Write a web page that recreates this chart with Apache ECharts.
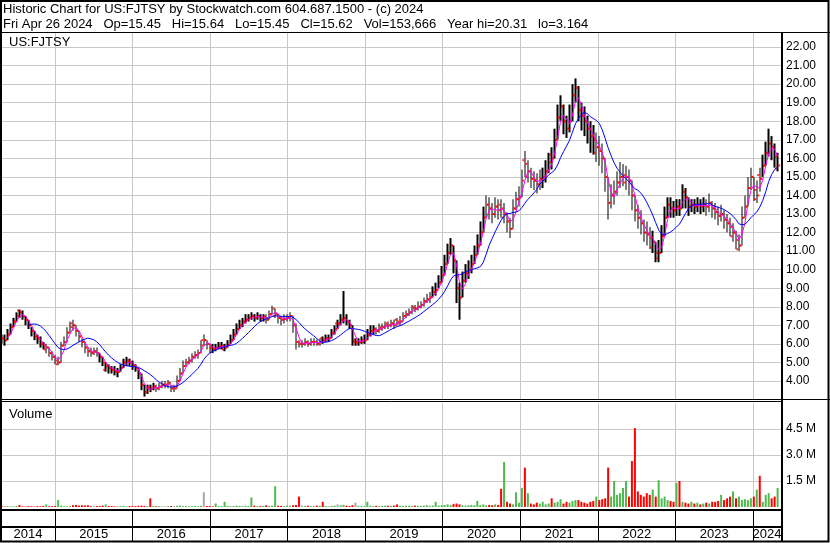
<!DOCTYPE html>
<html><head><meta charset="utf-8">
<script src="https://cdn.jsdelivr.net/npm/echarts@6/dist/echarts.min.js"></script>
<style>html,body{margin:0;padding:0;background:#fff}#c{width:830px;height:543px}</style>
</head><body><div id="c"></div>
<script>
// ---- data (bi-weekly bars) ----
const firstBarDate = [2014, 3, 25];   // y, m(0-based), d
const barStepDays = 14;
const axisStart = [2014, 3, 22];
const axisEnd = [2024, 4, 12];
const yearLabels = ['2014','2015','2016','2017','2018','2019','2020','2021','2022','2023','2024'];
const priceTicks = [4,5,6,7,8,9,10,11,12,13,14,15,16,17,18,19,20,21,22];
const volumeTicks = [1.5, 3.0, 4.5];   // millions

const opens = [
6.4,6.3,6.2,6.5,6.9,7.2,7.8,7.7,7.5,7.3,
7.0,6.7,6.4,6.3,6.0,5.7,5.8,5.5,5.3,4.9,
5.0,5.9,6.1,6.6,7.1,7.0,6.7,6.4,6.1,5.8,
5.6,5.5,5.6,5.5,5.3,4.6,4.8,4.7,4.6,4.5,
4.5,4.7,5.0,5.1,5.0,4.85,4.7,4.4,3.8,3.4,
3.7,3.6,3.7,3.6,3.7,3.8,3.8,3.9,3.6,3.6,
4.0,4.4,4.8,5.0,5.1,5.3,5.4,5.5,6.2,6.2,
6.0,5.8,5.7,5.8,5.85,5.7,5.8,5.95,6.2,6.5,
6.8,7.0,7.2,7.3,7.4,7.5,7.4,7.5,7.4,7.45,
7.3,7.6,7.5,7.6,7.4,7.3,7.35,7.4,7.5,7.0,
6.1,6.0,6.0,6.1,6.0,6.1,6.1,6.0,6.3,6.2,
6.3,6.3,6.6,7.1,7.1,7.3,7.4,7.2,7.0,6.1,
6.0,6.1,6.1,6.2,6.5,6.7,6.8,6.7,6.8,6.9,
7.1,7.0,7.1,7.3,7.1,7.2,7.5,7.6,7.7,8.0,
7.9,8.0,8.1,8.3,8.4,8.5,8.8,8.9,9.3,9.7,
10.3,10.9,11.3,10.5,9.0,8.5,9.4,9.8,10.0,10.3,
10.8,11.3,12.0,12.8,13.5,13.3,13.0,13.4,13.5,12.8,
13.0,12.6,12.2,13.3,13.8,13.9,15.9,15.0,15.3,14.9,
14.8,14.6,14.9,15.0,15.3,16.2,16.0,17.0,18.2,18.8,
18.0,17.6,18.0,19.4,19.8,18.6,18.3,18.0,17.6,17.2,
16.3,16.6,16.4,16.0,15.0,13.6,14.0,14.2,14.7,15.0,
14.7,15.0,14.8,14.0,13.2,12.8,12.5,12.0,11.9,11.2,
11.5,10.6,10.9,11.8,12.8,13.5,13.3,13.2,13.4,13.3,
14.2,13.9,13.4,13.5,13.4,13.5,13.4,13.5,13.4,13.6,
13.3,13.1,12.9,13.0,12.7,12.5,11.8,12.0,11.1,11.3,
12.8,13.4,14.4,15.0,13.8,15.1,14.9,15.6,16.3,16.8,
16.6,15.45];

const closes = [
6.3,6.2,6.5,6.9,7.2,7.5,7.7,7.5,7.3,7.0,
6.7,6.4,6.3,6.0,5.9,5.8,5.5,5.3,5.1,5.0,
5.9,6.1,6.6,6.9,7.0,6.7,6.4,6.1,5.8,5.6,
5.5,5.6,5.5,5.3,5.0,4.8,4.7,4.6,4.5,4.5,
4.7,5.0,5.1,5.0,4.85,4.7,4.4,3.8,3.4,3.6,
3.6,3.7,3.6,3.7,3.8,3.8,3.9,3.6,3.6,4.0,
4.4,4.8,5.0,5.1,5.3,5.4,5.5,5.9,6.2,6.0,
5.8,5.7,5.8,5.85,5.9,5.8,5.95,6.2,6.5,6.8,
7.0,7.2,7.3,7.4,7.5,7.4,7.5,7.4,7.45,7.3,
7.6,7.9,7.6,7.4,7.3,7.35,7.4,7.5,7.0,6.1,
6.0,6.0,6.1,6.0,6.1,6.1,6.0,6.1,6.2,6.3,
6.3,6.6,6.8,7.1,7.3,7.4,7.2,7.0,6.2,6.1,
6.1,6.2,6.2,6.5,6.7,6.8,6.7,6.9,6.9,7.0,
7.0,7.1,7.0,7.2,7.2,7.5,7.6,7.7,7.9,7.9,
8.0,8.1,8.3,8.4,8.5,8.8,8.9,9.3,9.7,10.3,
10.9,11.3,10.5,9.0,8.5,9.4,9.8,10.0,10.3,10.8,
11.3,12.0,12.8,13.5,13.3,13.0,13.4,13.2,13.3,13.0,
12.6,12.2,13.3,13.8,13.9,14.8,15.7,15.3,14.9,14.8,
14.6,14.9,15.0,15.3,15.8,16.0,17.0,18.2,18.8,18.0,
17.6,18.0,19.4,19.8,18.6,18.3,18.0,17.6,17.2,17.0,
16.6,16.4,16.0,15.0,13.6,14.0,14.2,14.7,15.0,15.1,
15.0,14.8,14.0,13.2,12.8,12.5,12.0,11.9,11.7,11.5,
10.9,10.9,11.8,12.8,13.5,13.3,13.2,13.4,13.3,14.2,
13.9,13.4,13.5,13.4,13.5,13.4,13.5,13.4,13.6,13.3,
13.1,12.9,13.0,12.7,12.5,12.3,12.0,11.6,11.3,12.8,
13.4,14.4,15.0,14.3,14.0,14.9,15.6,16.3,16.8,16.6,
16.1,15.62];

const lows = [
6.0,5.9,6.2,6.5,6.9,7.2,7.4,7.3,7.0,6.8,
6.4,6.2,6.0,5.8,5.7,5.5,5.3,5.1,4.9,4.85,
5.0,5.9,6.1,6.6,6.7,6.4,6.1,5.8,5.5,5.3,
5.3,5.4,5.3,5.0,4.8,4.5,4.4,4.4,4.3,4.2,
4.5,4.7,4.8,4.8,4.6,4.5,4.1,3.5,3.16,3.3,
3.4,3.5,3.4,3.5,3.6,3.6,3.6,3.4,3.4,3.6,
4.0,4.4,4.8,4.9,5.0,5.2,5.2,5.5,5.9,5.7,
5.5,5.5,5.6,5.7,5.7,5.6,5.8,6.0,6.2,6.5,
6.8,6.9,7.1,7.2,7.3,7.2,7.3,7.2,7.2,7.1,
7.3,7.6,7.4,7.1,7.0,7.1,7.2,7.2,6.6,5.7,
5.8,5.8,5.9,5.85,5.9,5.9,5.9,5.9,6.0,6.1,
6.1,6.3,6.5,6.8,7.0,7.1,7.0,6.8,5.9,5.9,
5.9,6.0,6.0,6.2,6.4,6.5,6.5,6.6,6.7,6.8,
6.8,6.9,6.8,7.0,7.0,7.2,7.4,7.5,7.6,7.7,
7.8,7.9,8.0,8.2,8.2,8.5,8.6,9.0,9.3,9.7,
10.3,10.8,9.8,8.2,7.3,8.5,9.3,9.5,9.8,10.3,
10.8,11.3,12.0,12.8,12.7,12.5,12.8,12.7,12.8,12.5,
12.0,11.7,12.2,13.2,13.4,13.9,15.0,14.7,14.4,14.3,
14.1,14.3,14.4,14.7,15.2,15.4,16.0,17.0,18.0,17.3,
17.1,17.4,18.0,19.0,18.0,17.5,17.2,16.8,16.3,16.2,
15.8,15.6,15.2,14.2,12.7,13.3,13.5,14.0,14.4,14.5,
14.3,14.0,13.2,12.6,12.2,11.9,11.5,11.3,11.1,10.9,
10.4,10.4,10.9,11.8,12.8,12.8,12.8,12.9,12.9,13.3,
13.3,12.9,13.1,13.0,13.1,13.0,13.1,12.9,13.1,12.8,
12.7,12.4,12.6,12.2,12.0,11.8,11.5,11.1,11.0,11.3,
12.8,13.4,14.3,13.7,13.6,14.2,15.0,15.6,16.1,15.9,
15.5,15.3];

const highs = [
6.5,6.5,6.8,7.1,7.4,7.7,7.85,7.8,7.5,7.3,
6.9,6.7,6.5,6.4,6.1,6.0,5.8,5.6,5.4,5.3,
6.1,6.4,6.9,7.2,7.3,7.0,6.7,6.3,6.1,5.8,
5.8,5.8,5.8,5.5,5.3,5.0,4.9,4.8,4.8,4.7,
4.9,5.2,5.3,5.2,5.1,4.9,4.7,4.4,3.8,3.8,
3.8,3.9,3.8,3.9,4.0,4.0,4.05,3.8,3.8,4.3,
4.7,5.1,5.2,5.3,5.5,5.6,5.7,6.2,6.5,6.2,
6.0,6.0,6.0,6.1,6.1,6.0,6.2,6.5,6.8,7.1,
7.3,7.4,7.6,7.6,7.7,7.6,7.7,7.6,7.6,7.6,
7.8,8.05,7.9,7.6,7.5,7.6,7.6,7.7,7.5,7.1,
6.2,6.2,6.3,6.2,6.3,6.3,6.25,6.3,6.4,6.5,
6.5,6.8,7.0,7.3,7.6,8.85,7.6,7.3,7.0,6.3,
6.3,6.4,6.5,6.8,7.0,7.0,6.9,7.1,7.1,7.2,
7.2,7.3,7.3,7.4,7.5,7.7,7.8,7.9,8.1,8.1,
8.3,8.3,8.5,8.7,8.8,9.1,9.3,9.7,10.2,10.8,
11.4,11.7,11.3,10.5,9.3,9.9,10.3,10.5,10.8,11.3,
11.9,12.6,13.4,14.0,13.9,13.6,13.9,13.8,13.8,13.6,
13.1,12.8,13.8,14.2,14.5,15.4,16.4,15.9,15.5,15.3,
15.2,15.4,15.5,15.9,16.3,16.6,17.6,18.9,19.4,18.9,
18.3,18.9,20.0,20.31,19.9,19.0,18.8,18.3,18.0,17.8,
17.4,17.2,16.8,16.0,15.0,14.6,14.8,15.3,15.8,15.7,
15.6,15.4,14.8,14.0,13.5,13.2,12.7,12.6,12.3,12.1,
11.5,11.6,12.4,13.4,13.9,13.9,13.7,13.8,13.8,14.6,
14.4,13.9,13.8,13.8,13.9,13.8,13.9,13.8,14.1,13.7,
13.6,13.4,13.5,13.2,13.0,12.8,12.5,12.1,11.9,13.4,
14.0,15.0,15.5,15.0,14.8,15.5,16.2,16.9,17.6,17.2,
16.8,16.3];

const volumes = [   // millions
0.04,0.03,0.05,0.04,0.03,0.06,0.12,0.04,0.03,0.05,
0.04,0.03,0.05,0.04,0.06,0.15,0.04,0.05,0.06,0.4,
0.08,0.05,0.04,0.06,0.1,0.12,0.08,0.1,0.09,0.1,
0.05,0.04,0.06,0.05,0.08,0.15,0.06,0.05,0.04,0.06,
0.05,0.07,0.04,0.05,0.06,0.05,0.07,0.08,0.06,0.05,
0.5,0.06,0.04,0.05,0.03,0.04,0.05,0.06,0.04,0.07,
0.08,0.05,0.06,0.04,0.05,0.06,0.05,0.07,0.85,0.06,
0.05,0.04,0.2,0.06,0.05,0.3,0.07,0.05,0.06,0.08,
0.06,0.05,0.07,0.06,0.55,0.08,0.06,0.05,0.07,0.1,
0.06,0.08,1.2,0.07,0.06,0.05,0.08,0.07,0.1,0.12,
0.6,0.08,0.06,0.07,0.05,0.06,0.08,0.07,0.3,0.06,
0.05,0.07,0.08,0.15,0.1,0.12,0.08,0.06,0.1,0.25,
0.07,0.06,0.05,0.3,0.08,0.06,0.07,0.05,0.06,0.08,
0.07,0.06,0.08,0.15,0.07,0.06,0.08,0.07,0.06,0.08,
0.07,0.06,0.08,0.1,0.07,0.09,0.3,0.08,0.1,0.12,
0.15,0.12,0.18,0.2,0.15,0.1,0.08,0.1,0.12,0.1,
0.35,0.12,0.15,0.1,0.12,0.1,0.15,0.12,1.05,2.6,
0.3,0.2,0.15,0.85,0.25,1.1,2.27,0.8,0.2,0.15,
0.25,0.2,0.3,0.15,0.2,0.5,0.25,0.3,0.45,0.2,
0.3,0.25,0.35,0.4,0.4,0.3,0.25,0.2,0.3,0.35,
0.6,0.4,0.45,0.5,2.27,0.6,1.5,0.7,0.8,1.1,
1.5,0.6,2.65,4.55,0.9,0.7,0.6,0.8,0.7,1.0,
0.6,1.55,0.5,0.6,0.4,0.35,0.3,1.4,1.5,0.3,
0.25,0.2,0.3,0.2,0.25,0.15,0.2,0.25,0.2,0.3,
0.3,0.35,0.7,0.4,0.5,0.6,0.9,0.5,0.6,0.4,
0.45,0.4,0.5,0.6,1.0,1.8,0.3,0.7,0.8,0.5,
0.6,1.1];

const fastMaLen = 3;
const slowMaLen = 10;

const headerLine1 = 'Historic Chart for US:FJTSY by Stockwatch.com 604.687.1500 - (c) 2024';
const headerLine2 = 'Fri Apr 26 2024   Op=15.45   Hi=15.64   Lo=15.45   Cl=15.62   Vol=153,666   Year hi=20.31   lo=3.164';
const symbolLabel = 'US:FJTSY';
const volumeLabel = 'Volume';

// ---- build ----
const FONT = "'Liberation Sans', Arial, sans-serif";
const DAY = 86400000;
function utc(y, m, d) { return Date.UTC(y, m, d); }
const t0 = utc(axisStart[0], axisStart[1], axisStart[2]);
function dayX(t) { return Math.round((t - t0) / DAY); }   // x = days since axis start
const xMax = dayX(utc(axisEnd[0], axisEnd[1], axisEnd[2]));
const barX = closes.map((_, i) => dayX(utc(firstBarDate[0], firstBarDate[1], firstBarDate[2] + barStepDays * i)));
const yearStarts = yearLabels.slice(1).map(y => dayX(utc(+y, 0, 1)));
const yearCenters = yearLabels.map(y => {
  const a = Math.max(0, dayX(utc(+y, 0, 1)));
  const b = Math.min(xMax, dayX(utc(+y + 1, 0, 1)));
  return (a + b) / 2;
});
function yearOf(x) { return new Date(t0 + x * DAY).getUTCFullYear(); }
function sma(arr, n) {
  return arr.map((_, i) => {
    if (i < n - 1) return null;
    let s = 0; for (let k = i - n + 1; k <= i; k++) s += arr[k];
    return s / n;
  });
}
const fastMa = sma(closes, fastMaLen);
const slowMa = sma(closes, slowMaLen);

const GRID_C = '#c8c8c8';
const chart = echarts.init(document.getElementById('c'), null, { renderer: 'canvas' });

function dayAxis(gridIndex, extra) {
  return Object.assign({
    type: 'value', gridIndex, min: 0, max: xMax,
    axisLine: { show: false },
    axisTick: { show: false, customValues: yearStarts },
    axisLabel: { show: false },
    splitLine: { show: true, lineStyle: { color: GRID_C, width: 1 } }
  }, extra || {});
}

const option = {
  animation: false,
  backgroundColor: '#fff',
  grid: [
    { left: 1, right: 49, top: 33, height: 366.5 },
    { left: 1, right: 49, top: 403, height: 104 },
    { left: 1, right: 49, top: 510, height: 17 }
  ],
  xAxis: [
    dayAxis(0),
    dayAxis(1),
    dayAxis(2, {
      axisTick: { show: true, customValues: yearStarts, length: 15, lineStyle: { color: '#000', width: 1 } },
      axisLabel: {
        show: true, customValues: yearCenters, margin: 7, verticalAlign: 'middle',
        color: '#000', fontSize: 13, fontFamily: FONT,
        formatter: v => String(yearOf(v))
      },
      splitLine: { show: true, lineStyle: { color: '#000', width: 1 } }
    })
  ],
  yAxis: [
    {
      type: 'value', gridIndex: 0, position: 'right', min: 3, max: 22.758,
      axisLine: { show: false },
      axisTick: { show: false, customValues: priceTicks },
      axisLabel: { customValues: priceTicks, formatter: v => v.toFixed(2), color: '#000', fontSize: 12, fontFamily: FONT, margin: 5 },
      splitLine: { show: true, lineStyle: { color: GRID_C, width: 1 } }
    },
    {
      type: 'value', gridIndex: 1, position: 'right', min: 0, max: 6,
      axisLine: { show: false },
      axisTick: { show: false, customValues: volumeTicks },
      axisLabel: { customValues: volumeTicks, formatter: v => v.toFixed(1) + ' M', color: '#000', fontSize: 12, fontFamily: FONT, margin: 5 },
      splitLine: { show: true, lineStyle: { color: GRID_C, width: 1 } }
    },
    { type: 'value', gridIndex: 2, show: false, min: 0, max: 1 }
  ],
  series: [
    {
      type: 'candlestick', name: 'range', xAxisIndex: 0, yAxisIndex: 0, z: 2,
      barWidth: 2, silent: true,
      encode: { x: 0, y: [1, 2, 3, 4] },
      itemStyle: { color: '#000', color0: '#000', borderColor: '#000', borderColor0: '#000', borderWidth: 0 },
      data: barX.map((x, i) => [x, lows[i], highs[i], lows[i], highs[i]])
    },
    {
      type: 'scatter', name: 'open', xAxisIndex: 0, yAxisIndex: 0, z: 3, silent: true,
      symbol: 'rect', symbolSize: [2, 2], symbolOffset: [-1.5, 0],
      itemStyle: { color: '#ff0000' },
      data: barX.map((x, i) => [x, opens[i]])
    },
    {
      type: 'scatter', name: 'close', xAxisIndex: 0, yAxisIndex: 0, z: 3, silent: true,
      symbol: 'rect', symbolSize: [2, 2], symbolOffset: [1.5, 0],
      itemStyle: { color: '#ff0000' },
      data: barX.map((x, i) => [x, closes[i]])
    },
    {
      type: 'line', name: 'fastMA', xAxisIndex: 0, yAxisIndex: 0, z: 4, silent: true,
      showSymbol: false, symbol: 'none', lineStyle: { color: '#ff00ff', width: 1 },
      data: barX.map((x, i) => [x, fastMa[i]])
    },
    {
      type: 'line', name: 'slowMA', xAxisIndex: 0, yAxisIndex: 0, z: 5, silent: true,
      showSymbol: false, symbol: 'none', lineStyle: { color: '#0000ff', width: 1 },
      data: barX.map((x, i) => [x, slowMa[i]])
    },
    {
      type: 'bar', name: 'volume', xAxisIndex: 1, yAxisIndex: 1, barWidth: 2, silent: true,
      data: barX.map((x, i) => ({
        value: [x, volumes[i]],
        itemStyle: { color: closes[i] > opens[i] ? '#4fba4f' : (closes[i] < opens[i] ? '#ff0000' : '#a8a8a8') }
      }))
    },
    { type: 'scatter', xAxisIndex: 2, yAxisIndex: 2, data: [] }
  ],
  graphic: [
    { type: 'text', z: 100, style: { text: headerLine1, x: 3, y: 9, verticalAlign: 'middle', font: '13px ' + FONT, fill: '#000' } },
    { type: 'text', z: 100, style: { text: headerLine2, x: 3, y: 24, verticalAlign: 'middle', font: '13px ' + FONT, fill: '#000' } },
    { type: 'text', z: 100, style: { text: symbolLabel, x: 9, y: 42, verticalAlign: 'middle', font: '13px ' + FONT, fill: '#000' } },
    { type: 'text', z: 100, style: { text: volumeLabel, x: 9, y: 414, verticalAlign: 'middle', font: '13px ' + FONT, fill: '#000' } },
    { type: 'line', z: 100, shape: { x1: 0, y1: 32.5, x2: 830, y2: 32.5 }, style: { stroke: '#000', lineWidth: 1 } },
    { type: 'line', z: 100, shape: { x1: 0, y1: 399.5, x2: 830, y2: 399.5 }, style: { stroke: '#000', lineWidth: 1 } },
    { type: 'line', z: 100, shape: { x1: 0, y1: 401.5, x2: 781, y2: 401.5 }, style: { stroke: '#000', lineWidth: 1 } },
    { type: 'line', z: 100, shape: { x1: 0, y1: 510, x2: 781, y2: 510 }, style: { stroke: '#000', lineWidth: 2 } },
    { type: 'line', z: 100, shape: { x1: 0, y1: 527, x2: 781, y2: 527 }, style: { stroke: '#000', lineWidth: 2 } },
    { type: 'line', z: 100, shape: { x1: 782, y1: 32, x2: 782, y2: 542 }, style: { stroke: '#000', lineWidth: 2 } },
    { type: 'rect', z: 100, shape: { x: 1, y: 1, width: 827.5, height: 540.5 }, style: { fill: 'none', stroke: '#000', lineWidth: 2 } }
  ]
};
chart.setOption(option);
</script>
</body></html>
